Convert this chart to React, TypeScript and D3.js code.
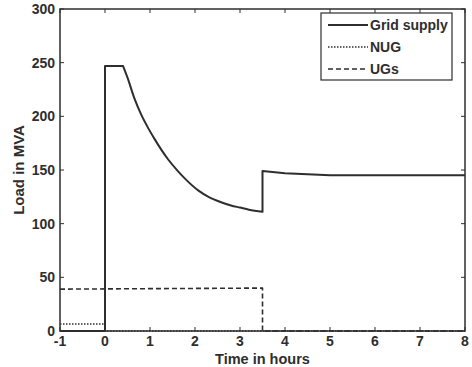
import React from "react";
import * as d3 from "d3";

const gridT = [-1, 0, 0, 0.4, 0.5, 0.66, 0.8, 0.96, 1.1, 1.25, 1.4, 1.62, 1.8, 2.07, 2.3, 2.58, 2.8, 3.0, 3.2, 3.5, 3.5, 4.0, 4.5, 5, 6, 7, 8];
const gridV = [0, 0, 247, 247, 236, 216, 202, 189, 179, 169, 160, 149, 141, 131, 125, 120, 117, 115, 113, 111, 149, 147, 146, 145, 145, 145, 145];
const nugT = [-1, 0, 0, 8];
const nugV = [6.5, 6.5, 0, 0];
const ugT = [-1, 3.5, 3.5, 8];
const ugV = [39, 40, 0, 0];
const xTicks = [-1, 0, 1, 2, 3, 4, 5, 6, 7, 8];
const yTicks = [0, 50, 100, 150, 200, 250, 300];
const legendLabels = ["Grid supply", "NUG", "UGs"];

const W = 472, H = 367;
const L = 60, R = 465, T = 9, B = 331;
const ink = "#2e2e2e";
const font = "'Liberation Sans', Arial, sans-serif";

export default function App() {
  const x = d3.scaleLinear().domain([-1, 8]).range([L, R]);
  const y = d3.scaleLinear().domain([0, 300]).range([B, T]);
  const linePath = (ts: number[], vs: number[], curve: d3.CurveFactory) =>
    d3.line<number>().x((_, i) => x(ts[i])).y((v) => y(v)).curve(curve)(vs) || "";
  // Grid supply: step pieces linear, decay piece smooth
  const iStart = 3; // t=0.4
  const iEnd = gridT.indexOf(3.5); // first 3.5
  const gridPath =
    linePath(gridT.slice(0, iStart + 1), gridV.slice(0, iStart + 1), d3.curveLinear) +
    linePath(gridT.slice(iStart, iEnd + 1), gridV.slice(iStart, iEnd + 1), d3.curveMonotoneX).replace(/^M/, "L") +
    linePath(gridT.slice(iEnd), gridV.slice(iEnd), d3.curveLinear).replace(/^M/, "L");
  const dashes = ["", "1.5,1.5", "5,3"];
  const paths = [
    gridPath,
    linePath(nugT, nugV, d3.curveLinear),
    linePath(ugT, ugV, d3.curveLinear),
  ];
  return (
    <svg width={W} height={H} style={{ position: "absolute", left: 0, top: 0, background: "#fff" }}>
      <rect x={L} y={T} width={R - L} height={B - T} fill="none" stroke={ink} strokeWidth={1.5} />
      {xTicks.map((t) => (
        <g key={"x" + t}>
          <line x1={x(t)} x2={x(t)} y1={B} y2={B - 4} stroke={ink} />
          <line x1={x(t)} x2={x(t)} y1={T} y2={T + 4} stroke={ink} />
          <text x={x(t)} y={B + 15} textAnchor="middle" fontFamily={font} fontWeight="bold" fontSize={14} fill={ink}>
            {t}
          </text>
        </g>
      ))}
      {yTicks.map((v) => (
        <g key={"y" + v}>
          <line x1={L} x2={L + 4} y1={y(v)} y2={y(v)} stroke={ink} />
          <line x1={R} x2={R - 4} y1={y(v)} y2={y(v)} stroke={ink} />
          <text x={L - 5} y={y(v) + 5} textAnchor="end" fontFamily={font} fontWeight="bold" fontSize={14} fill={ink}>
            {v}
          </text>
        </g>
      ))}
      {paths.map((d, i) => (
        <path key={i} d={d} fill="none" stroke={ink} strokeWidth={i === 0 ? 2 : 1.6} strokeDasharray={dashes[i]} strokeLinejoin="round" />
      ))}
      <text x={(L + R) / 2} y={364} textAnchor="middle" fontFamily={font} fontWeight="bold" fontSize={14.5} fill={ink}>
        Time in hours
      </text>
      <text transform={`translate(24,${(T + B) / 2}) rotate(-90)`} textAnchor="middle" fontFamily={font} fontWeight="bold" fontSize={15} fill={ink}>
        Load in MVA
      </text>
      <g>
        <rect x={321} y={13} width={131} height={67} fill="#fff" stroke={ink} strokeWidth={1.2} />
        {legendLabels.map((lab, i) => (
          <g key={lab}>
            <line x1={328} x2={368} y1={25 + i * 22} y2={25 + i * 22} stroke={ink} strokeWidth={i === 0 ? 2 : 1.6} strokeDasharray={dashes[i]} />
            <text x={370} y={30 + i * 22} fontFamily={font} fontWeight="bold" fontSize={14} fill={ink}>
              {lab}
            </text>
          </g>
        ))}
      </g>
    </svg>
  );
}
